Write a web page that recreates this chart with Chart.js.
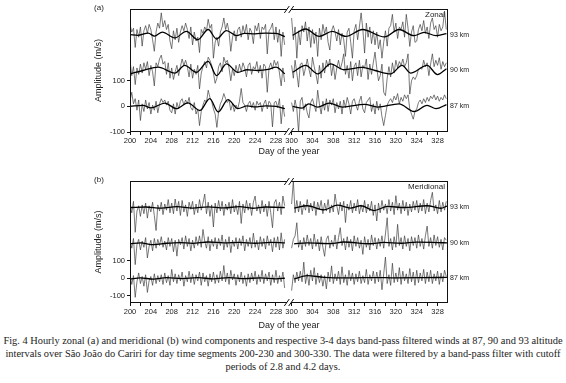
<!DOCTYPE html>
<html><head><meta charset="utf-8">
<script src="https://cdn.jsdelivr.net/npm/chart.js@4.4.0/dist/chart.umd.min.js"></script>
<style>
html,body{margin:0;padding:0;background:#fff;width:566px;height:383px;overflow:hidden}
canvas{position:absolute;left:0}
#ca{top:0}
#cb{top:170px}
.cap{position:absolute;left:0;width:566px;text-align:center;font-family:"Liberation Serif","Times New Roman",serif;font-size:10.4px;color:#222;white-space:nowrap;line-height:12px}
</style></head><body>
<canvas id="ca" width="566" height="162"></canvas>
<canvas id="cb" width="566" height="162"></canvas>
<div class="cap" style="top:335px">Fig. 4 Hourly zonal (a) and meridional (b) wind components and respective 3-4 days band-pass filtered winds at 87, 90 and 93 altitude</div>
<div class="cap" style="top:348px">intervals over São João do Cariri for day time segments 200-230 and 300-330. The data were filtered by a band-pass filter with cutoff</div>
<div class="cap" style="top:361px">periods of 2.8 and 4.2 days.</div>
<script>
// ---------- data (3 samples per day, values relative to each altitude's baseline) ----------
const altitudeLabels = ['87 km', '90 km', '93 km'];
const zonalOffsets = [0, 140, 280];
const meridOffsets = [0, 200, 400];
const yTickValues = [-100, 0, 100];
const majorTickDays = [200,204,208,212,216,220,224,228,300,304,308,312,316,320,324,328];
const minorTickDays = [202,206,210,214,218,222,226,302,306,310,314,318,322,326];
const leftStartDay = 200, rightStartDay = 300, samplesPerDay = 3;

const zonal87Left = [20,55,10,30,-15,25,-55,10,-20,25,-10,15,-30,5,-15,
20,-25,10,30,15,25,5,20,-15,-25,10,-30,15,-10,20,
30,5,25,10,35,-5,-15,15,-30,-10,-75,-20,5,25,15,
63,35,20,-10,-30,-82,-20,10,25,50,30,15,25,-15,10,
-20,5,-10,20,70,15,5,-20,10,20,-5,15,-15,20,5,
15,-20,10,25,-10,20,10,-80,15,20,-5,30,-68,5,-40];
const zonal90Left = [40,-20,15,-55,10,-15,25,-10,30,5,35,-20,20,-5,-60,
30,15,45,60,25,35,-15,30,-30,10,-35,-5,20,-20,15,
45,20,40,15,-25,25,-30,5,-15,20,-72,-10,15,35,10,
52,40,20,-10,-50,-30,15,30,-5,52,30,40,10,-40,5,
-20,20,-10,25,-5,30,10,-25,20,30,-15,15,5,35,-10,
20,-30,25,15,-85,10,30,5,40,20,35,-10,-60,10,-45];
const zonal93Left = [40,10,25,-50,20,-10,30,-45,15,35,5,40,20,-20,-65,
10,45,25,85,30,55,20,40,-25,-55,15,-20,25,-30,10,
35,15,45,20,-15,30,-40,10,-25,-10,-70,20,5,30,15,
60,25,40,-92,-30,-10,-45,10,30,65,20,45,10,-65,-10,
15,-25,20,30,-10,35,5,40,-20,25,10,-35,35,15,45,
-15,30,20,40,-75,15,25,45,-20,30,-30,20,-85,10,-40];
const zonal87Right = [15,-20,25,-10,-100,20,35,-15,10,-25,-45,15,30,5,-20,
63,10,-30,20,-15,30,-20,25,5,30,-25,15,-10,20,-30,
25,-5,35,10,-30,20,30,5,-15,20,40,-10,-25,15,25,
35,-20,10,-30,20,-15,10,-40,-75,-35,5,20,30,15,40,
25,50,10,35,20,45,30,45,-10,-30,-50,-20,-10,15,25,
10,30,15,35,20,40,30,45,25,40,20,35,25,45,30];
const zonal90Right = [20,-30,40,-10,-65,25,30,-20,10,45,5,-25,52,15,-15,
-52,20,-30,30,-10,40,15,45,-20,25,-35,10,40,5,30,
65,-15,20,-30,35,-40,15,30,-20,40,-25,20,10,45,-35,
25,-15,30,72,10,-40,-20,25,-85,-98,-30,15,-25,30,-10,
40,10,35,20,45,15,30,65,-92,-40,-25,-35,-20,5,10,
5,40,15,30,-20,25,65,15,40,20,50,5,35,15,30];
const zonal93Right = [65,-20,30,-92,15,-40,35,10,50,-25,30,-50,20,-35,10,
-85,25,-20,40,5,30,-30,-60,15,35,10,-25,20,-40,5,
-20,-85,10,25,-30,-92,15,40,-20,30,85,20,-72,45,-10,
30,-35,15,-40,10,-55,-20,-92,-30,15,-45,25,35,79,10,
45,-15,30,20,50,-10,79,25,-46,10,35,-30,-25,20,40,
15,55,5,30,-15,45,65,20,35,-10,40,15,30,92,20];

const merid87Left = [25,-35,15,-108,-20,30,-30,10,-45,20,-80,-15,10,-40,25,
-30,15,-20,20,-35,30,-25,15,-40,50,-20,25,-30,20,-15,
35,-45,15,-20,40,-25,25,-35,20,-15,35,-40,30,-20,15,
-45,25,-20,35,-30,20,-25,40,-15,72,-20,30,-35,45,-10,
25,-40,20,-20,35,-30,15,-45,25,-25,30,-15,40,-35,20,
-20,45,-30,25,-15,35,-40,20,-25,45,-30,15,-20,35,-55];
const merid90Left = [15,-30,25,-123,-10,20,-40,10,-25,30,-85,-20,15,-45,25,
-30,20,-15,35,-25,10,-40,30,-20,25,-50,15,-75,20,-10,
30,-35,40,-20,25,-45,15,-30,35,-15,40,-25,76,10,-30,
35,-45,20,-20,30,-35,25,-15,45,-40,20,-25,35,-55,15,
-20,30,-35,25,-15,40,-45,20,-20,30,-30,55,-25,15,-40,
35,-20,25,-35,40,-15,20,-50,30,-25,35,-40,57,-30,20];
const merid93Left = [20,-30,35,-140,-20,10,-50,15,-35,25,-60,10,-25,30,-45,
-130,15,-20,30,-40,20,-15,45,-30,25,-35,48,-20,35,-45,
40,-25,15,-50,30,-10,35,-40,20,-30,45,-15,25,76,-35,
30,-50,15,-110,25,-30,40,-20,35,-45,20,-15,30,-35,45,
-25,15,-40,35,-90,20,-30,40,-15,25,-45,30,65,-20,15,
-35,40,-25,20,-50,35,-30,-114,25,45,-20,30,-40,65,10];
const merid87Right = [-70,20,-25,35,-15,40,-20,91,-30,25,-40,45,-15,60,-35,
30,-25,20,-45,15,-60,35,-20,70,-30,25,-15,40,-35,65,
-25,20,-40,45,-15,30,-35,25,-20,40,-30,15,-25,50,-35,
20,-15,40,-30,35,-20,45,-65,25,120,-30,20,-40,85,-25,
30,-20,60,-35,40,-15,25,-30,55,-20,35,-40,45,-25,30,
-15,50,-30,35,-20,45,-30,25,-15,40,-35,30,-20,45,10];
const merid90Right = [-30,20,40,114,-25,15,-40,30,-20,45,-15,25,-35,50,-20,
20,-45,35,-25,-76,20,40,-30,15,-20,45,-35,30,86,-15,
25,-40,35,-25,20,-45,40,-20,30,-30,15,-65,35,-25,20,
-40,45,-15,30,-35,25,-20,40,-30,50,142,-20,25,-40,35,
-25,105,-15,30,-35,40,-20,25,-45,35,-15,30,-30,45,-20,
25,-35,40,95,-20,30,-30,45,-15,35,-25,20,-40,30,15];
const merid93Right = [20,150,-30,40,-25,35,-40,20,-15,45,-30,25,-20,35,-45,
30,-10,40,-35,25,-20,45,-30,15,-25,76,10,-40,30,-20,
35,-85,20,-15,40,-30,25,-20,45,-35,15,-25,40,-30,20,
-20,35,-45,15,-76,25,-30,40,-15,20,-35,45,-20,30,-40,
67,-15,25,-35,40,-20,30,-45,20,-25,35,-15,40,-30,25,
-20,45,-35,25,-25,40,86,-20,15,-35,40,-25,30,-15,35];

// band-pass filtered curves: [day, value] turning points
const zonal87LeftFilt = [[200,0],[202.5,4],[204,-6],[206.7,13],[208.9,-9],[211.1,14],[213.4,-16],[215.3,30],[216.9,-22],[218.8,26],[220.7,-9],[222.5,2],[224,-2],[226,2],[228,0],[229.7,-9]];
const zonal90LeftFilt = [[200,-13],[202.5,0],[205.4,13],[208.6,-10],[210.5,20],[212.7,-7],[215,36],[216.6,-20],[218.5,26],[220.7,-7],[222.5,3],[224.5,0],[226.5,4],[228,13],[229.7,-13]];
const zonal93LeftFilt = [[200,0],[201.5,-3],[203.5,6],[204.7,-6],[206.2,10],[208.6,-13],[210.8,13],[213,-20],[215,20],[216.6,-17],[218.5,16],[220.4,-4],[222,5],[224,3],[226,6],[228,5],[229.7,-8]];
const zonal87RightFilt = [[300.2,0],[302,-7],[303.3,10],[305,-3],[307.2,13],[309.8,-3],[314,8],[316.5,-3],[320.6,10],[323.5,-20],[326,4],[327.7,-9],[329.7,7]];
const zonal90RightFilt = [[300.2,-7],[302.7,20],[305,-13],[307.5,26],[310,3],[313.5,12],[316,0],[319,-13],[321.2,20],[322.8,-10],[326,20],[328,-16],[329.7,7]];
const zonal93RightFilt = [[300.2,-3],[302.7,22],[305.3,-7],[307.8,13],[310.4,-7],[313.6,20],[317.8,-9],[320.6,20],[323.5,-4],[325.4,9],[327.7,-4],[329.7,4]];
const merid87LeftFilt = [[200,-5],[202,2],[204.5,-5],[207,3],[210,-2],[213,3],[216,-3],[219,4],[222,-2],[225,2],[228,-3],[229.7,0]];
const merid90LeftFilt = [[200,-5],[202,0],[204.5,-10],[207,-2],[209.5,2],[212,-3],[215,5],[218,0],[221,3],[224,-2],[227,3],[229.7,0]];
const merid93LeftFilt = [[200,0],[203,3],[206,-3],[209,5],[212,-3],[215,4],[218,-2],[221,5],[223.5,-4],[226,3],[229.7,0]];
const merid87RightFilt = [[300.5,-4],[303,15],[306.2,5],[311.3,2],[316,4],[320,2],[325,3],[329.8,5]];
const merid90RightFilt = [[300.5,-5],[303,0],[307.5,-4],[310,5],[315,-5],[317.7,3],[321,-2],[324,4],[328,2],[329.8,0]];
const merid93RightFilt = [[300.5,-4],[303,10],[306.2,-13],[308.8,13],[311.3,-3],[313.3,10],[315.8,-17],[318.4,6],[321.6,0],[326,10],[328.6,-4],[329.8,8]];

// ---------- broken x axis: day -> continuous position ----------
function toU(d){ return d < 265 ? d - 200 : d - 269; }
function fromU(u){ return u <= 30.5 ? Math.round(u + 200) : Math.round(u + 269); }
const BREAK_U = 30.5;

Chart.defaults.font.family = '"Liberation Sans", Arial, sans-serif';
Chart.defaults.color = '#222';

function rawDataset(vals, start, off){
  return {type:'line', data: vals.map((v,i)=>({x: toU(start + i/samplesPerDay), y: off + v})),
    borderColor:'rgba(60,60,60,0.9)', borderWidth:0.75, pointRadius:0, tension:0, order:2};
}
function filtDataset(pairs, off){
  return {type:'line', data: pairs.map(p=>({x: toU(p[0]), y: off + p[1]})),
    borderColor:'#000', borderWidth:1.3, pointRadius:0, cubicInterpolationMode:'monotone', order:1};
}

function makePanel(id, cfg){
  const ds = [];
  cfg.series.forEach((s, k) => {
    const off = cfg.offsets[k];
    ds.push(rawDataset(s.left, leftStartDay, off));
    ds.push(rawDataset(s.right, rightStartDay, off));
    ds.push(filtDataset(s.leftFilt, off));
    ds.push(filtDataset(s.rightFilt, off));
  });
  const deco = {
    id:'deco'+id,
    afterDraw(chart){
      const {ctx, chartArea:a, scales:{x, y}} = chart;
      ctx.save();
      ctx.strokeStyle = '#111'; ctx.lineWidth = 1;
      const L = Math.round(a.left)+0.5, R = Math.round(a.right)-0.5, T = Math.round(a.top)+0.5, B = Math.round(a.bottom)-0.5;
      ctx.strokeRect(L, T, R-L, B-T);
      const bx = x.getPixelForValue(BREAK_U);
      [T, B].forEach(yy => {
        ctx.fillStyle = '#fff';
        ctx.fillRect(bx-2, yy-1.5, 4, 3);
        ctx.beginPath();
        [-2.2, 2.2].forEach(dx => { ctx.moveTo(bx+dx-2.5, yy+3.5); ctx.lineTo(bx+dx+2.5, yy-3.5); });
        ctx.stroke();
      });
      ctx.fillStyle = '#222';
      ctx.font = '7px "Liberation Sans", Arial, sans-serif';
      ctx.textBaseline = 'middle'; ctx.textAlign = 'left';
      cfg.offsets.forEach((o,k) => ctx.fillText(altitudeLabels[k], a.right + 2, y.getPixelForValue(o)));
      ctx.font = '8px "Liberation Sans", Arial, sans-serif';
      ctx.textAlign = 'right';
      ctx.fillText(cfg.name, a.right - 3, a.top + 6);
      ctx.textAlign = 'center';
      ctx.fillText(cfg.letter, 99, a.top - 1);
      ctx.restore();
    }
  };
  return new Chart(document.getElementById(id), {
    type:'line',
    data:{datasets: ds},
    plugins:[deco],
    options:{
      responsive:false, animation:false, events:[],
      layout:{padding:{left:0, right:118, top:cfg.top, bottom:0}},
      plugins:{legend:{display:false}, tooltip:{enabled:false}},
      scales:{
        x:{type:'linear', min:0, max:61,
          afterBuildTicks: s => { s.ticks = majorTickDays.concat(minorTickDays).sort((a,b)=>a-b).map(d=>({value: toU(d)})); },
          afterFit: s => { s.height = cfg.xHeight; },
          ticks:{autoSkip:false, maxRotation:0, font:{size:7.5}, padding:1,
            callback: v => { const d = fromU(v); return majorTickDays.includes(d) ? String(d) : ''; }},
          grid:{drawOnChartArea:false, drawTicks:true, tickLength:3, color:'#111'},
          border:{display:false},
          title:{display:true, text:'Day of the year', font:{size:9}, padding:{top:0, bottom:cfg.titleBottom}}
        },
        y:{type:'linear', min:cfg.yMin, max:cfg.yMax,
          afterBuildTicks: s => { s.ticks = yTickValues.map(v=>({value:v})); },
          afterFit: s => { s.width = 130; },
          ticks:{font:{size:7.5}, padding:2},
          grid:{drawOnChartArea:false, drawTicks:true, tickLength:3, color:'#111'},
          border:{display:false},
          title:{display:true, text:'Amplitude (m/s)', font:{size:9}, padding:{top:93, bottom:0}}
        }
      }
    }
  });
}

makePanel('ca', {top:9, xHeight:30, titleBottom:4.6, yMin:-100, yMax:380, offsets:zonalOffsets, name:'Zonal', letter:'(a)',
  series:[
    {left:zonal87Left, right:zonal87Right, leftFilt:zonal87LeftFilt, rightFilt:zonal87RightFilt},
    {left:zonal90Left, right:zonal90Right, leftFilt:zonal90LeftFilt, rightFilt:zonal90RightFilt},
    {left:zonal93Left, right:zonal93Right, leftFilt:zonal93LeftFilt, rightFilt:zonal93RightFilt}]});
makePanel('cb', {top:11, xHeight:29, titleBottom:1.5, yMin:-140, yMax:550, offsets:meridOffsets, name:'Meridional', letter:'(b)',
  series:[
    {left:merid87Left, right:merid87Right, leftFilt:merid87LeftFilt, rightFilt:merid87RightFilt},
    {left:merid90Left, right:merid90Right, leftFilt:merid90LeftFilt, rightFilt:merid90RightFilt},
    {left:merid93Left, right:merid93Right, leftFilt:merid93LeftFilt, rightFilt:merid93RightFilt}]});
</script>
</body></html>
